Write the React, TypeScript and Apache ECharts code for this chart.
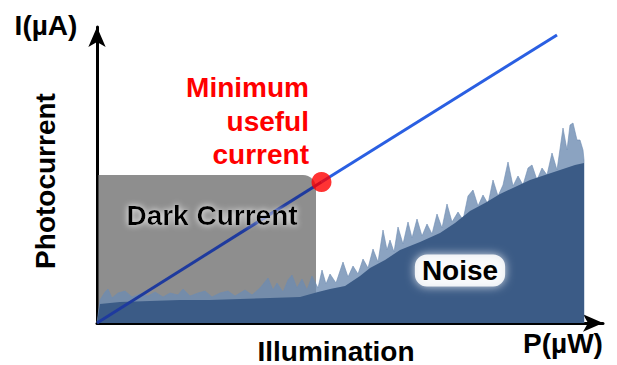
import React, { useEffect, useRef } from "react";
import * as echarts from "echarts";

// Arbitrary schematic units (no ticks on the original chart)
const xRange = [0, 506];
const yRange = [0, 296];

// Dark current block: [xStart, yStart, xEnd, yEnd]
const darkCurrent = [[0, 0, 219, 148]];

// Photocurrent response line
const responseBelow: [number, number][] = [[0, 0], [224.5, 141]];
const responseAbove: [number, number][] = [[224.5, 141], [460, 288]];
const minUseful: [number, number][] = [[224.5, 141]];

// Solid noise floor
const noiseFloor: [number, number][] = [
  [0, 0], [3, 19], [23, 21], [53, 22], [83, 23], [113, 23], [143, 24], [173, 25],
  [203, 26], [221, 31], [233, 34], [248, 37], [263, 47], [273, 55], [288, 63],
  [303, 73], [323, 81], [343, 90], [358, 100], [373, 112], [388, 120], [403, 129],
  [418, 136], [433, 143], [448, 148], [463, 153], [478, 158], [487, 160], [487, 0],
];

// Noise spikes envelope
const noiseSpikes: [number, number][] = [
  [0, 0], [3, 23], [8, 31], [11, 34], [15, 25], [21, 30], [28, 32], [35, 26], [43, 29],
  [51, 27], [58, 31], [66, 26], [73, 30], [81, 28], [86, 34], [93, 27], [101, 30],
  [108, 32], [115, 26], [123, 30], [131, 32], [138, 27], [148, 33], [155, 28], [163, 35],
  [171, 45], [176, 33], [180, 40], [186, 31], [191, 43], [195, 48], [200, 35], [205, 44],
  [210, 33], [215, 47], [221, 35], [225, 53], [229, 39], [233, 49], [239, 40], [246, 61],
  [251, 46], [256, 57], [261, 49], [266, 64], [271, 55], [276, 74], [281, 61], [286, 93],
  [290, 73], [293, 83], [297, 71], [301, 96], [306, 79], [311, 101], [315, 85], [320, 104],
  [325, 87], [330, 99], [335, 89], [340, 109], [345, 95], [350, 119], [355, 101], [361, 111],
  [366, 103], [371, 127], [376, 133], [381, 117], [386, 128], [391, 119], [396, 143],
  [401, 127], [406, 138], [411, 161], [416, 137], [421, 147], [426, 138], [431, 155],
  [435, 158], [440, 143], [445, 155], [450, 148], [455, 170], [460, 153], [466, 195],
  [470, 173], [473, 198], [476, 200], [480, 183], [483, 183], [486, 173], [487, 163], [487, 0],
];

const FONT = '"Liberation Sans", Arial, sans-serif';

export default function App() {
  const ref = useRef<HTMLDivElement>(null);

  useEffect(() => {
    if (!ref.current) return;
    const chart = echarts.init(ref.current, null, { renderer: "svg" });

    const axisLine = {
      show: true,
      symbol: ["none", "arrow"],
      symbolSize: [13, 20],
      lineStyle: { color: "#000", width: 3 },
    };

    const boldText = (extra: any) => ({
      fontFamily: FONT,
      fontWeight: "bold",
      fontSize: 28,
      fill: "#000",
      textAlign: "center",
      textVerticalAlign: "middle",
      ...extra,
    });

    chart.setOption({
      animation: false,
      backgroundColor: "#fff",
      grid: { left: 97, right: 14, top: 27, bottom: 42 },
      xAxis: {
        type: "value",
        min: xRange[0],
        max: xRange[1],
        axisLine,
        axisTick: { show: false },
        axisLabel: { show: false },
        splitLine: { show: false },
      },
      yAxis: {
        type: "value",
        min: yRange[0],
        max: yRange[1],
        axisLine,
        axisTick: { show: false },
        axisLabel: { show: false },
        splitLine: { show: false },
      },
      series: [
        {
          type: "custom",
          name: "Dark Current",
          z: 1,
          data: darkCurrent,
          renderItem: (params: any, api: any) => {
            const p0 = api.coord([api.value(0), api.value(1)]);
            const p1 = api.coord([api.value(2), api.value(3)]);
            return {
              type: "rect",
              shape: {
                x: p0[0] + 1.5,
                y: p1[1],
                width: p1[0] - p0[0] - 1.5,
                height: p0[1] - p1[1],
                r: [0, 13, 0, 0],
              },
              style: { fill: "#8e8e8e" },
            };
          },
        },
        {
          type: "line",
          name: "Noise spikes",
          z: 2,
          data: noiseSpikes,
          symbol: "none",
          lineStyle: { width: 1, color: "rgba(110,140,178,0.6)" },
          areaStyle: { color: "rgba(110,140,178,0.8)", opacity: 1 },
        },
        {
          type: "line",
          name: "Noise",
          z: 3,
          data: noiseFloor,
          symbol: "none",
          lineStyle: { width: 0 },
          areaStyle: { color: "#3b5b86", opacity: 1 },
        },
        {
          type: "line",
          name: "Response (dark)",
          z: 4,
          data: responseBelow,
          symbol: "none",
          lineStyle: { width: 3, color: "#1e3a9e" },
        },
        {
          type: "line",
          name: "Response",
          z: 4,
          data: responseAbove,
          symbol: "none",
          lineStyle: { width: 3, color: "#2a5fe2" },
        },
        {
          type: "scatter",
          name: "Minimum useful current",
          z: 5,
          data: minUseful,
          symbolSize: 20,
          itemStyle: { color: "#ff0000" },
        },
      ],
      graphic: [
        { type: "text", x: 46, y: 25, z: 10, style: boldText({ text: "I(µA)" }) },
        {
          type: "text",
          x: 45.5,
          y: 181,
          rotation: Math.PI / 2,
          z: 10,
          style: boldText({ text: "Photocurrent" }),
        },
        {
          type: "text",
          x: 336,
          y: 351,
          z: 10,
          style: boldText({ text: "Illumination", lineHeight: 22 }),
        },
        { type: "text", x: 563, y: 343, z: 10, style: boldText({ text: "P(µW)" }) },
        {
          type: "text",
          x: 212,
          y: 215.5,
          z: 10,
          style: boldText({
            text: "Dark Current",
            textShadowColor: "#ffffff",
            textShadowBlur: 6,
          }),
        },
        {
          type: "text",
          x: 460,
          y: 270.5,
          z: 10,
          style: boldText({
            text: "Noise",
            backgroundColor: "rgba(255,255,255,0.88)",
            borderRadius: 12,
            padding: [2, 7],
            shadowColor: "rgba(255,255,255,0.9)",
            shadowBlur: 10,
          }),
        },
        {
          type: "text",
          x: 309,
          y: 121,
          z: 10,
          style: boldText({
            text: "Minimum\nuseful\ncurrent",
            fill: "#ff0000",
            textAlign: "right",
            lineHeight: 33.5,
          }),
        },
      ],
    });

    return () => chart.dispose();
  }, []);

  return (
    <div
      ref={ref}
      style={{ position: "absolute", left: 0, top: 0, width: 617, height: 365 }}
    />
  );
}
